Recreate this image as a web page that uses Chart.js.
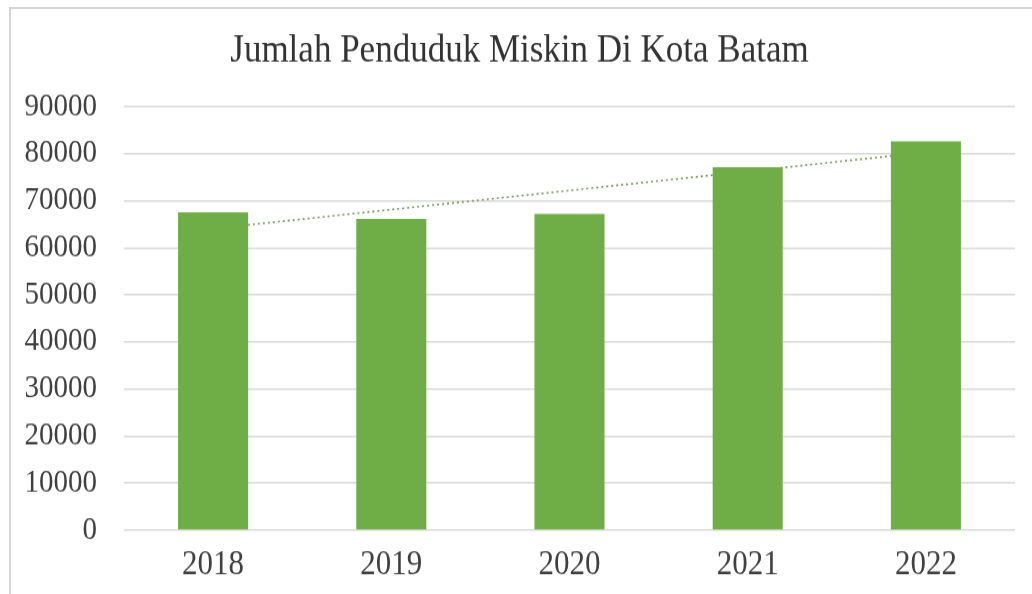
<!DOCTYPE html>
<html>
<head>
<meta charset="utf-8">
<script src="https://cdn.jsdelivr.net/npm/chart.js@4.4.0/dist/chart.umd.min.js"></script>
<style>
    html, body { margin: 0; padding: 0; background: #fff; overflow: hidden; }
    #wrap { position: absolute; left: 0; top: 0; width: 1032px; height: 540px; transform: scaleY(1.1); transform-origin: 0 0; }
    #frame { position: absolute; left: 9px; top: 7px; right: 0; bottom: -4px; border-left: 2px solid #d6d6d6; border-top: 2px solid #d6d6d6; }
</style>
</head>
<body>
<div id="frame"></div>
<div id="wrap"><canvas id="povertyChart" width="1032" height="540"></canvas></div>
<script>
// Chart data
const years = ['2018', '2019', '2020', '2021', '2022'];
const poorPopulation = [67570, 66150, 67230, 77130, 82650];
const trendValues = [64080, 68140, 72200, 76260, 80320];
const yTicks = [0, 10000, 20000, 30000, 40000, 50000, 60000, 70000, 80000, 90000];

const chartTitle = 'Jumlah Penduduk Miskin Di Kota Batam';
const serifFont = '"Liberation Serif", "Times New Roman", serif';

let povertyChart;

document.addEventListener('DOMContentLoaded', function() {
    const ctx = document.getElementById('povertyChart').getContext('2d');
    povertyChart = new Chart(ctx, {
        type: 'bar',
        data: {
            labels: years,
            datasets: [
                {
                    label: 'Penduduk Miskin',
                    data: poorPopulation,
                    backgroundColor: '#6fad47',
                    barPercentage: 0.393,
                    categoryPercentage: 1,
                    order: 1
                },
                {
                    type: 'line',
                    label: 'Trend',
                    data: trendValues,
                    borderColor: '#7b9866',
                    borderWidth: 1.6,
                    borderDash: [2, 3],
                    pointRadius: 0,
                    fill: false,
                    order: 2
                }
            ]
        },
        options: {
            responsive: false,
            animation: false,
            devicePixelRatio: 1,
            layout: {
                padding: { left: 24, right: 17, top: 0, bottom: 8 }
            },
            plugins: {
                legend: { display: false },
                tooltip: { enabled: false },
                title: {
                    display: true,
                    text: chartTitle,
                    color: '#333333',
                    font: { family: serifFont, size: 35, weight: 'normal' },
                    padding: { top: 26, bottom: 29 }
                }
            },
            scales: {
                x: {
                    offset: true,
                    grid: { display: false, drawTicks: false },
                    border: { display: false },
                    afterFit: function(scale) {
                        scale.height = 50;
                    },
                    ticks: {
                        color: '#404040',
                        padding: 13,
                        font: { family: serifFont, size: 31 }
                    }
                },
                y: {
                    min: 0,
                    max: 90000,
                    afterBuildTicks: function(scale) {
                        scale.ticks = yTicks.map(v => ({ value: v }));
                    },
                    afterFit: function(scale) {
                        scale.width = 100;
                    },
                    grid: { color: '#d9d9d9', lineWidth: 1.5, drawTicks: false },
                    border: { display: false },
                    ticks: {
                        color: '#404040',
                        padding: 27,
                        font: { family: serifFont, size: 29 },
                        callback: value => String(value)
                    }
                }
            }
        }
    });
});
</script>
</body>
</html>
